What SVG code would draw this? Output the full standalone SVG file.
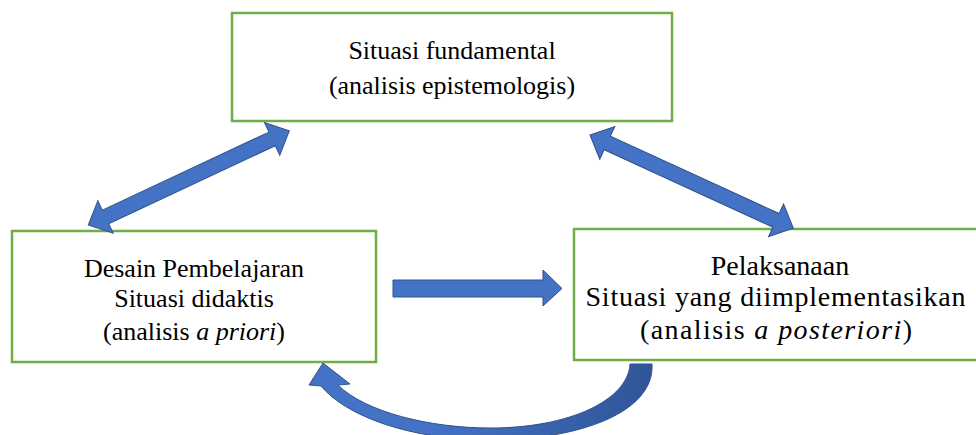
<svg xmlns="http://www.w3.org/2000/svg" width="976" height="435" viewBox="0 0 976 435">
<style>
.box{fill:#fff;stroke:#70AD47;stroke-width:2.5}
.t{font-family:"Liberation Serif","Times New Roman","DejaVu Serif",serif;font-size:26px;fill:#000;text-anchor:middle}
.r{font-size:28px}
.arr{fill:#4472C4;stroke:#2F528F;stroke-width:1}
</style>
<defs>
<linearGradient id="cg" gradientUnits="userSpaceOnUse" x1="430" y1="0" x2="655" y2="0">
<stop offset="0" stop-color="#4472C4"/>
<stop offset="1" stop-color="#2F5597"/>
</linearGradient>
</defs>
<rect width="976" height="435" fill="#fff"/>
<g id="top">
<rect class="box" x="232" y="13" width="440" height="108"/>
<text class="t" x="452" y="59">Situasi fundamental</text>
<text class="t" x="452" y="94">(analisis epistemologis)</text>
</g>
<g id="left">
<rect class="box" x="12" y="231" width="364" height="131"/>
<text class="t" x="194" y="277">Desain Pembelajaran</text>
<text class="t" x="194" y="307">Situasi didaktis</text>
<text class="t" x="194" y="340">(analisis <tspan font-style="italic">a priori</tspan>)</text>
</g>
<g id="right">
<rect class="box" x="574" y="229" width="410" height="131"/>
<text class="t r" x="780" y="275">Pelaksanaan</text>
<text class="t r" x="775.5" y="306" textLength="380" lengthAdjust="spacing">Situasi yang diimplementasikan</text>
<text class="t r" x="776" y="339" textLength="272" lengthAdjust="spacing">(analisis <tspan font-style="italic">a posteriori</tspan>)</text>
</g>
<g id="connectors">
<path class="arr" transform="translate(88.3,225) rotate(-25.1)" d="M0,0 L19,-18 L19,-7.5 L203,-7.5 L203,-18 L222,0 L203,18 L203,7.5 L19,7.5 L19,18 Z"/>
<path class="arr" transform="translate(590,135) rotate(24.65)" d="M0,0 L19,-18 L19,-7.5 L204.7,-7.5 L204.7,-18 L223.7,0 L204.7,18 L204.7,7.5 L19,7.5 L19,18 Z"/>
<path class="arr" d="M393,280 L543,280 L543,270 L562,288.5 L543,306 L543,297 L393,297 Z"/>
<path fill="url(#cg)" stroke="#2F528F" stroke-width="1" d="M652,364 C655,412 580,440 490,440 C410,440 346,416 321,386 L309,385 L323,363 L350,384 L338,385 C365,412 430,428 490,428 C570,428 628,400 630,364 Z"/>
</g>
</svg>
